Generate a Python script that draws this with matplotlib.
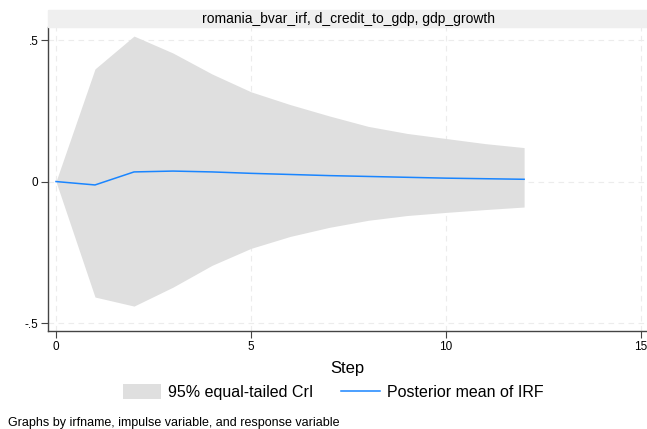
import numpy as np
import matplotlib.pyplot as plt
from matplotlib.patches import Patch
from matplotlib.lines import Line2D

plt.rcParams['font.family'] = ['Liberation Sans', 'DejaVu Sans']

# IRF data
step = [0, 1, 2, 3, 4, 5, 6, 7, 8, 9, 10, 11, 12]
upper = [0.0, 0.398, 0.514, 0.454, 0.38, 0.317, 0.272, 0.232, 0.195, 0.17, 0.152, 0.134, 0.12]
lower = [0.0, -0.408, -0.44, -0.373, -0.296, -0.236, -0.194, -0.162, -0.137, -0.12, -0.109, -0.099, -0.09]
mean_irf = [0.0, -0.012, 0.034, 0.037, 0.034, 0.029, 0.025, 0.021, 0.018, 0.015, 0.012, 0.01, 0.008]

xticks = [0, 5, 10, 15]
yticks = [-0.5, 0, 0.5]
ytick_labels = ['-.5', '0', '.5']

fig = plt.figure(figsize=(6.47, 4.29), dpi=100)
ax = fig.add_axes([48 / 647, 1 - 331 / 429, 599 / 647, 304 / 429])

ax.fill_between(step, lower, upper, color='#dfdfdf', linewidth=0)
ax.plot(step, mean_irf, color='#1a85ff', linewidth=1.1)

ax.set_xlim(-0.205, 15.15)
ax.set_ylim(-0.528, 0.546)
ax.set_xticks(xticks)
ax.set_xticklabels([str(t) for t in xticks])
ax.set_yticks(yticks)
ax.set_yticklabels(ytick_labels)
ax.grid(True, linestyle=(0, (5, 4)), color='#ececec', linewidth=0.8)
ax.set_axisbelow(True)

for s in ['top', 'right']:
    ax.spines[s].set_visible(False)
for s in ['left', 'bottom']:
    ax.spines[s].set_color('#444444')
    ax.spines[s].set_linewidth(1.0)
ax.tick_params(direction='out', length=5, width=0.8, color='#444444', labelsize=8.5, pad=2)

ax.set_xlabel('Step', fontsize=12, labelpad=6)

# title strip
fig.patches.append(plt.Rectangle((48 / 647, 1 - 27 / 429), 599 / 647, 17 / 429,
                                 transform=fig.transFigure, color='#efefef', zorder=0))
fig.text(348 / 647, 1 - 19 / 429, 'romania_bvar_irf, d_credit_to_gdp, gdp_growth',
         ha='center', va='center', fontsize=10)

handles = [Patch(facecolor='#dfdfdf', edgecolor='none'),
           Line2D([0], [0], color='#1a85ff', linewidth=1.1)]
fig.legend(handles, ['95% equal-tailed CrI', 'Posterior mean of IRF'],
           loc='center', bbox_to_anchor=(333 / 647, 1 - 392 / 429), ncol=2,
           frameon=False, fontsize=11.5, handlelength=2.4, handleheight=1.1,
           handletextpad=0.45, columnspacing=1.75)

fig.text(8 / 647, 1 - 423 / 429, 'Graphs by irfname, impulse variable, and response variable',
         ha='left', va='center', fontsize=9)

fig.savefig('out.png', dpi=100)
